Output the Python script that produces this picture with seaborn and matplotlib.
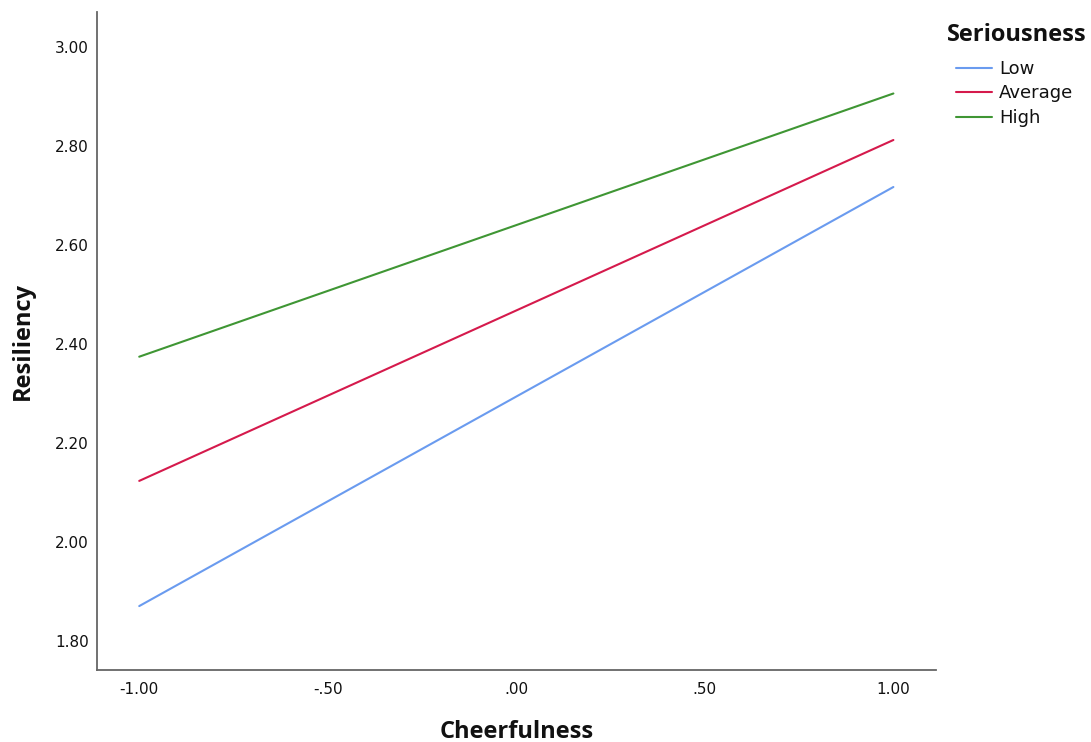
import matplotlib
matplotlib.use("Agg")
import matplotlib.pyplot as plt
import seaborn as sns
import pandas as pd
from matplotlib.lines import Line2D

cheerfulness = [-1.0, 1.0]
low = [1.870, 2.717]
average = [2.123, 2.812]
high = [2.374, 2.906]
levels = ["Low", "Average", "High"]
colors = {"Low": "#6A9BEF", "Average": "#D51A4C", "High": "#3F9634"}
xticks = [-1.0, -0.5, 0.0, 0.5, 1.0]
xtick_labels = ["-1.00", "-.50", ".00", ".50", "1.00"]
yticks = [1.8, 2.0, 2.2, 2.4, 2.6, 2.8, 3.0]
ytick_labels = ["1.80", "2.00", "2.20", "2.40", "2.60", "2.80", "3.00"]

rows = []
for name, vals in zip(levels, [low, average, high]):
    for x, y in zip(cheerfulness, vals):
        rows.append({"Cheerfulness": x, "Resiliency": y, "Seriousness": name})
df = pd.DataFrame(rows)

sns.set_theme(style="white")
plt.rcParams["font.family"] = ["DejaVu Sans"]

fig = plt.figure(figsize=(10.91, 7.42), dpi=100)
ax = fig.add_axes([97/1091, 1-670/742, (936-97)/1091, (670-12)/742])

sns.lineplot(data=df, x="Cheerfulness", y="Resiliency", hue="Seriousness",
             hue_order=levels, palette=colors, linewidth=1.5, ax=ax, legend=False)

ax.set_xlim(-1.112, 1.113)
ax.set_ylim(1.7408, 3.0707)
ax.set_xticks(xticks)
ax.set_xticklabels(xtick_labels)
ax.set_yticks(yticks)
ax.set_yticklabels(ytick_labels)
ax.tick_params(axis="both", length=0, labelsize=11, colors="#111111")
ax.tick_params(axis="x", pad=9)
ax.tick_params(axis="y", pad=6)

for side in ["top", "right"]:
    ax.spines[side].set_visible(False)
for side in ["left", "bottom"]:
    ax.spines[side].set_color("#666666")
    ax.spines[side].set_linewidth(1.3)

lab_font = dict(family=["Open Sans", "DejaVu Sans"], fontweight="bold", fontsize=17, color="#111111")
ax.set_xlabel("Cheerfulness", labelpad=16, **lab_font)
ax.set_ylabel("Resiliency", labelpad=14, **lab_font)

fig.text(947/1091, 1-35/742, "Seriousness", ha="left", va="center",
         family=["Open Sans", "DejaVu Sans"], fontweight="bold", fontsize=17, color="#111111")

handles = [Line2D([0], [0], color=colors[l], lw=1.5) for l in levels]
leg = fig.legend(handles, levels, loc="upper left", bbox_to_anchor=(956/1091, 1-60/742),
                 frameon=False, fontsize=13, handlelength=2.0, handletextpad=0.4,
                 labelspacing=0.36, borderaxespad=0, borderpad=0)
for t in leg.get_texts():
    t.set_color("#111111")

fig.savefig("out.png", dpi=100)
